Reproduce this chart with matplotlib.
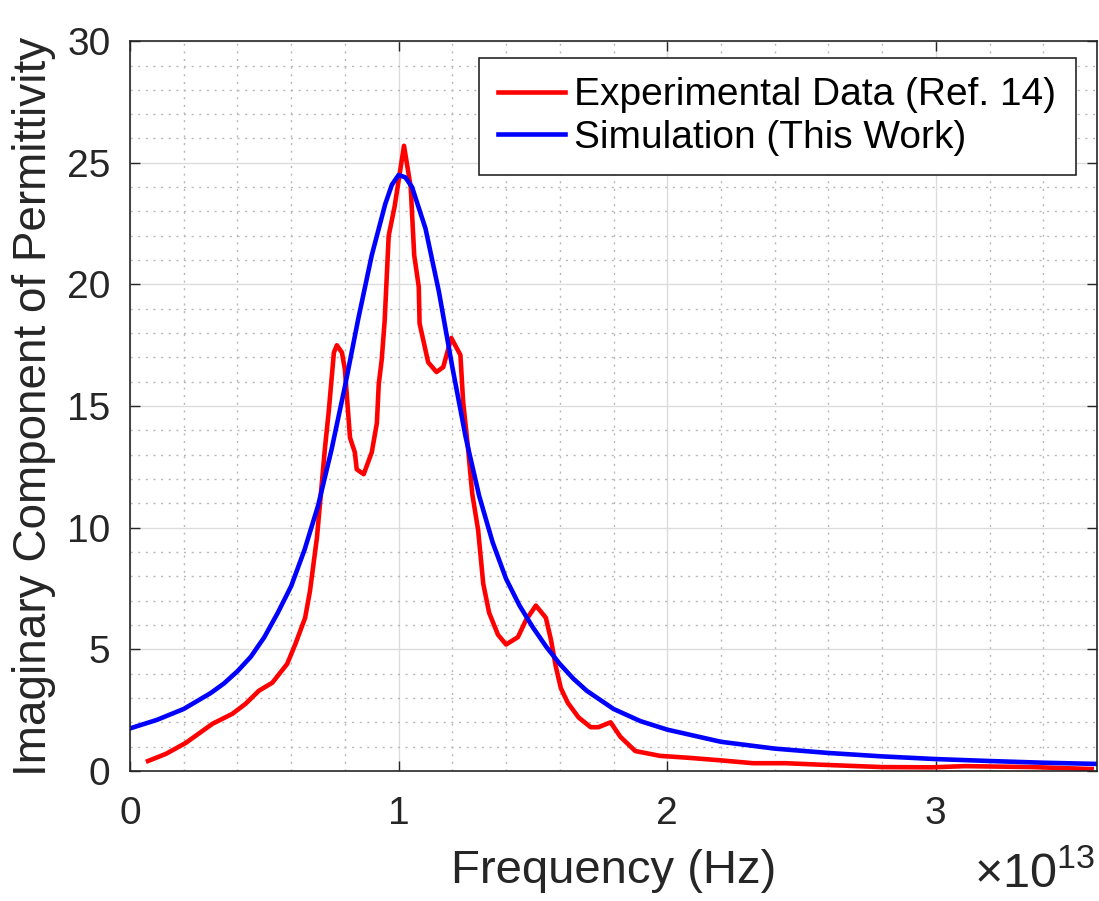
import matplotlib
matplotlib.use("Agg")
import matplotlib.pyplot as plt
from matplotlib.ticker import MultipleLocator

plt.rcParams['font.family'] = ['Liberation Sans', 'DejaVu Sans']
plt.rcParams['mathtext.fontset'] = 'custom'
plt.rcParams['mathtext.rm'] = 'Liberation Sans'

# frequency in units of 1e13 Hz
exp_freq = [0.067, 0.133, 0.207, 0.307, 0.381, 0.43, 0.48, 0.53, 0.585, 0.615,
            0.652, 0.67, 0.696, 0.726, 0.74, 0.759, 0.77, 0.789, 0.80, 0.819,
            0.837, 0.844, 0.87, 0.90, 0.919, 0.926, 0.937, 0.948, 0.963, 0.985,
            1.02, 1.045, 1.058, 1.075, 1.078, 1.11, 1.141, 1.166, 1.196, 1.23,
            1.24, 1.259, 1.274, 1.296, 1.315, 1.337, 1.37, 1.40, 1.444, 1.474,
            1.511, 1.548, 1.567, 1.585, 1.604, 1.63, 1.67, 1.715, 1.744, 1.789,
            1.826, 1.881, 1.974, 2.07, 2.196, 2.319, 2.44, 2.567, 2.8, 2.985,
            3.11, 3.36, 3.58]
exp_eps = [0.41, 0.70, 1.15, 1.94, 2.35, 2.76, 3.30, 3.63, 4.4, 5.2,
           6.3, 7.4, 9.6, 13.3, 14.8, 17.2, 17.5, 17.2, 16.5, 13.7,
           13.1, 12.4, 12.2, 13.1, 14.3, 15.9, 16.9, 18.5, 22.0, 23.2,
           25.7, 24.0, 21.2, 19.9, 18.4, 16.8, 16.4, 16.6, 17.8, 17.1,
           15.2, 13.2, 11.4, 9.9, 7.7, 6.5, 5.6, 5.2, 5.5, 6.2,
           6.8, 6.3, 5.4, 4.3, 3.4, 2.8, 2.2, 1.8, 1.8, 2.0,
           1.4, 0.82, 0.62, 0.55, 0.44, 0.32, 0.32, 0.26, 0.16, 0.15,
           0.2, 0.16, 0.08]

sim_freq = [0.0, 0.1, 0.2, 0.3, 0.35, 0.4, 0.45, 0.5, 0.55, 0.6, 0.65, 0.7,
            0.75, 0.8, 0.85, 0.9, 0.95, 0.975, 1.0, 1.025, 1.05, 1.1, 1.15,
            1.2, 1.25, 1.3, 1.35, 1.4, 1.45, 1.5, 1.55, 1.6, 1.65, 1.7, 1.8,
            1.9, 2.0, 2.2, 2.4, 2.6, 2.8, 3.0, 3.2, 3.4, 3.6]
sim_eps = [1.75, 2.1, 2.55, 3.2, 3.6, 4.1, 4.7, 5.5, 6.5, 7.6, 9.1, 10.9,
           13.2, 15.8, 18.6, 21.2, 23.3, 24.1, 24.5, 24.4, 24.0, 22.3, 19.7,
           16.6, 13.7, 11.3, 9.4, 7.9, 6.8, 5.9, 5.1, 4.4, 3.8, 3.3, 2.55,
           2.05, 1.7, 1.2, 0.92, 0.74, 0.6, 0.49, 0.41, 0.34, 0.29]

fig = plt.figure(figsize=(10.99, 9.01), dpi=100)
ax = fig.add_axes([0.1183, 0.1443, 0.8799, 0.810])

ax.plot(exp_freq, exp_eps, color=(1, 0, 0), lw=3.3, label='Experimental Data (Ref. 14)')
ax.plot(sim_freq, sim_eps, color=(0, 0, 1), lw=3.3, label='Simulation (This Work)')

ax.set_xlim(0, 3.6)
ax.set_ylim(0, 30)
ax.xaxis.set_major_locator(MultipleLocator(1))
ax.xaxis.set_minor_locator(MultipleLocator(0.2))
ax.yaxis.set_major_locator(MultipleLocator(5))
ax.yaxis.set_minor_locator(MultipleLocator(1))

ax.grid(which='major', color='#dcdcdc', lw=1, ls='-')
ax.grid(which='minor', color='#b8b8b8', lw=1, ls=(0, (1.5, 4)))
ax.set_axisbelow(True)

ax.tick_params(which='both', direction='in', top=True, right=True, colors='#262626',
               labelsize=28)
ax.tick_params(which='major', length=7, width=1)
ax.tick_params(which='minor', length=0)
ax.tick_params(axis='x', pad=18)
ax.tick_params(axis='y', pad=14)
for s in ax.spines.values():
    s.set_color('#262626')
    s.set_linewidth(1.2)

ax.set_xlabel('Frequency (Hz)', fontsize=34, color='#262626', labelpad=12)
ax.set_ylabel('Imaginary Component of Permittivity', fontsize=33, color='#262626', labelpad=8)

fig.text(0.997, 0.004, r'$\mathregular{\times10^{13}}$', ha='right', va='bottom',
         fontsize=35, color='#262626')

leg = ax.legend(loc='upper right', bbox_to_anchor=(0.978, 0.977), borderaxespad=0,
                fontsize=28, fancybox=False, framealpha=1, edgecolor='#262626',
                handlelength=1.7, handletextpad=0.25, labelspacing=0.17,
                borderpad=0.5)
leg.get_frame().set_linewidth(1.2)

fig.savefig('out.png', dpi=100)
